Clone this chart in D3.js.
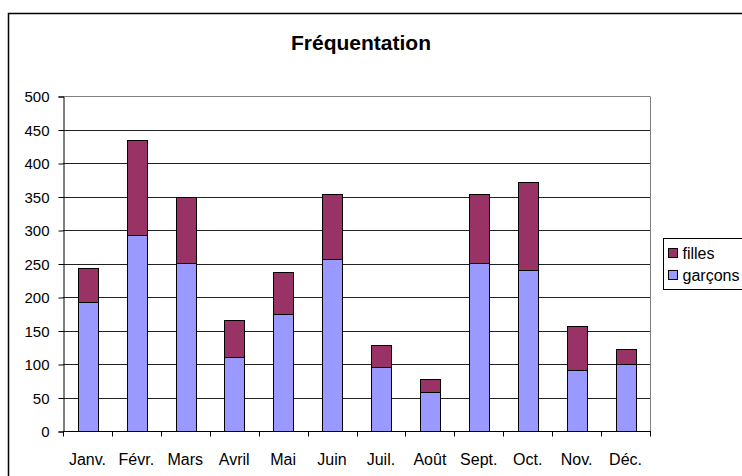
<!DOCTYPE html>
<html>
<head>
<meta charset="utf-8">
<script src="https://cdn.jsdelivr.net/npm/d3@7"></script>
<style>
  body { margin:0; background:#fff; }
  svg text { font-family: "Liberation Sans", Arial, sans-serif; }
</style>
</head>
<body>
<svg id="chart" width="742" height="476"></svg>
<script>
// months shown on the x axis
var months = ["Janv.", "Févr.", "Mars", "Avril", "Mai", "Juin", "Juil.", "Août", "Sept.", "Oct.", "Nov.", "Déc."];
// stacked series, bottom first
var garcons = [193, 293, 251, 110, 175, 256, 96, 58, 251, 241, 91, 100];
var filles  = [50, 142, 99, 56, 63, 98, 33, 19, 103, 130, 65, 23];
var yTicks = [0, 50, 100, 150, 200, 250, 300, 350, 400, 450, 500];

var seriesNames = ["garçons", "filles"];
var colors = { "garçons": "#9999ff", "filles": "#993366" };

var svg = d3.select("#chart");

var margin = { left: 63, top: 96, right: 650, bottom: 431 };

// outer chart frame
svg.append("rect")
  .attr("x", 8.5).attr("y", 13.5)
  .attr("width", 760).attr("height", 480)
  .attr("fill", "#fff")
  .attr("stroke", "#000").attr("stroke-width", 1.5);

svg.append("text")
  .attr("x", 361).attr("y", 50)
  .attr("text-anchor", "middle")
  .attr("font-size", "21px").attr("font-weight", "bold")
  .text("Fréquentation");

var x = d3.scaleBand().domain(months)
  .range([margin.left, margin.right])
  .paddingInner(0.6).paddingOuter(0.3);

var y = d3.scaleLinear().domain([0, 500])
  .range([margin.bottom, margin.top]);

// gridlines
svg.append("g").selectAll("line")
  .data(yTicks.filter(function (d) { return d > 0; }))
  .join("line")
  .attr("x1", margin.left).attr("x2", margin.right)
  .attr("y1", function (d) { return Math.round(y(d)) + 0.5; })
  .attr("y2", function (d) { return Math.round(y(d)) + 0.5; })
  .attr("stroke", function (d) { return d === 500 ? "#808080" : "#222"; });

// right border of plot area
svg.append("line")
  .attr("x1", margin.right + 0.5).attr("x2", margin.right + 0.5)
  .attr("y1", Math.round(y(500)) + 0.5).attr("y2", margin.bottom)
  .attr("stroke", "#808080");

// stacked bars
var table = months.map(function (m, i) {
  return { month: m, "garçons": garcons[i], "filles": filles[i] };
});
var stacked = d3.stack().keys(seriesNames)(table);

svg.append("g").selectAll("g")
  .data(stacked)
  .join("g")
  .attr("fill", function (s) { return colors[s.key]; })
  .selectAll("rect")
  .data(function (s) { return s; })
  .join("rect")
  .attr("x", function (d) { return Math.round(x(d.data.month)) + 0.5; })
  .attr("width", Math.round(x.bandwidth()))
  .attr("y", function (d) { return Math.round(y(d[1])) + 0.5; })
  .attr("height", function (d) { return Math.round(y(d[0])) - Math.round(y(d[1])); })
  .attr("stroke", "#000").attr("stroke-width", 1);

// y axis
var yAxis = svg.append("g")
  .attr("transform", "translate(" + (margin.left + 0.5) + ",0.5)")
  .call(d3.axisLeft(y).tickValues(yTicks).tickSize(5).tickPadding(9));
yAxis.select(".domain").attr("stroke", "#000");
yAxis.selectAll(".tick line").attr("stroke", "#000");
yAxis.selectAll(".tick text")
  .style("font-size", "15px")
  .style("font-family", "'Liberation Sans', Arial, sans-serif")
  .attr("fill", "#000").attr("dy", "0.36em");

// x axis: ticks sit between categories
var xAxis = svg.append("g")
  .attr("transform", "translate(0," + (margin.bottom + 0.5) + ")");
xAxis.append("line")
  .attr("x1", margin.left).attr("x2", margin.right + 1)
  .attr("stroke", "#000");
xAxis.selectAll("line.tk")
  .data(d3.range(months.length + 1))
  .join("line").attr("class", "tk")
  .attr("x1", function (i) { return Math.round(margin.left + i * (margin.right - margin.left) / months.length) + 0.5; })
  .attr("x2", function (i) { return Math.round(margin.left + i * (margin.right - margin.left) / months.length) + 0.5; })
  .attr("y1", 0).attr("y2", 5)
  .attr("stroke", "#000");
xAxis.selectAll("text")
  .data(months)
  .join("text")
  .attr("x", function (m) { return x(m) + x.bandwidth() / 2; })
  .attr("y", 33)
  .attr("text-anchor", "middle")
  .attr("font-size", "16px")
  .text(function (m) { return m; });

// legend
var legend = svg.append("g").attr("transform", "translate(663.5,238.5)");
legend.append("rect")
  .attr("width", 100).attr("height", 51)
  .attr("fill", "#fff").attr("stroke", "#000");
["filles", "garçons"].forEach(function (k, i) {
  legend.append("rect")
    .attr("x", 5).attr("y", 10 + i * 22)
    .attr("width", 9).attr("height", 9)
    .attr("fill", colors[k]).attr("stroke", "#000");
  legend.append("text")
    .attr("x", 19).attr("y", 20 + i * 22)
    .attr("font-size", "16px")
    .text(k);
});
</script>
</body>
</html>
